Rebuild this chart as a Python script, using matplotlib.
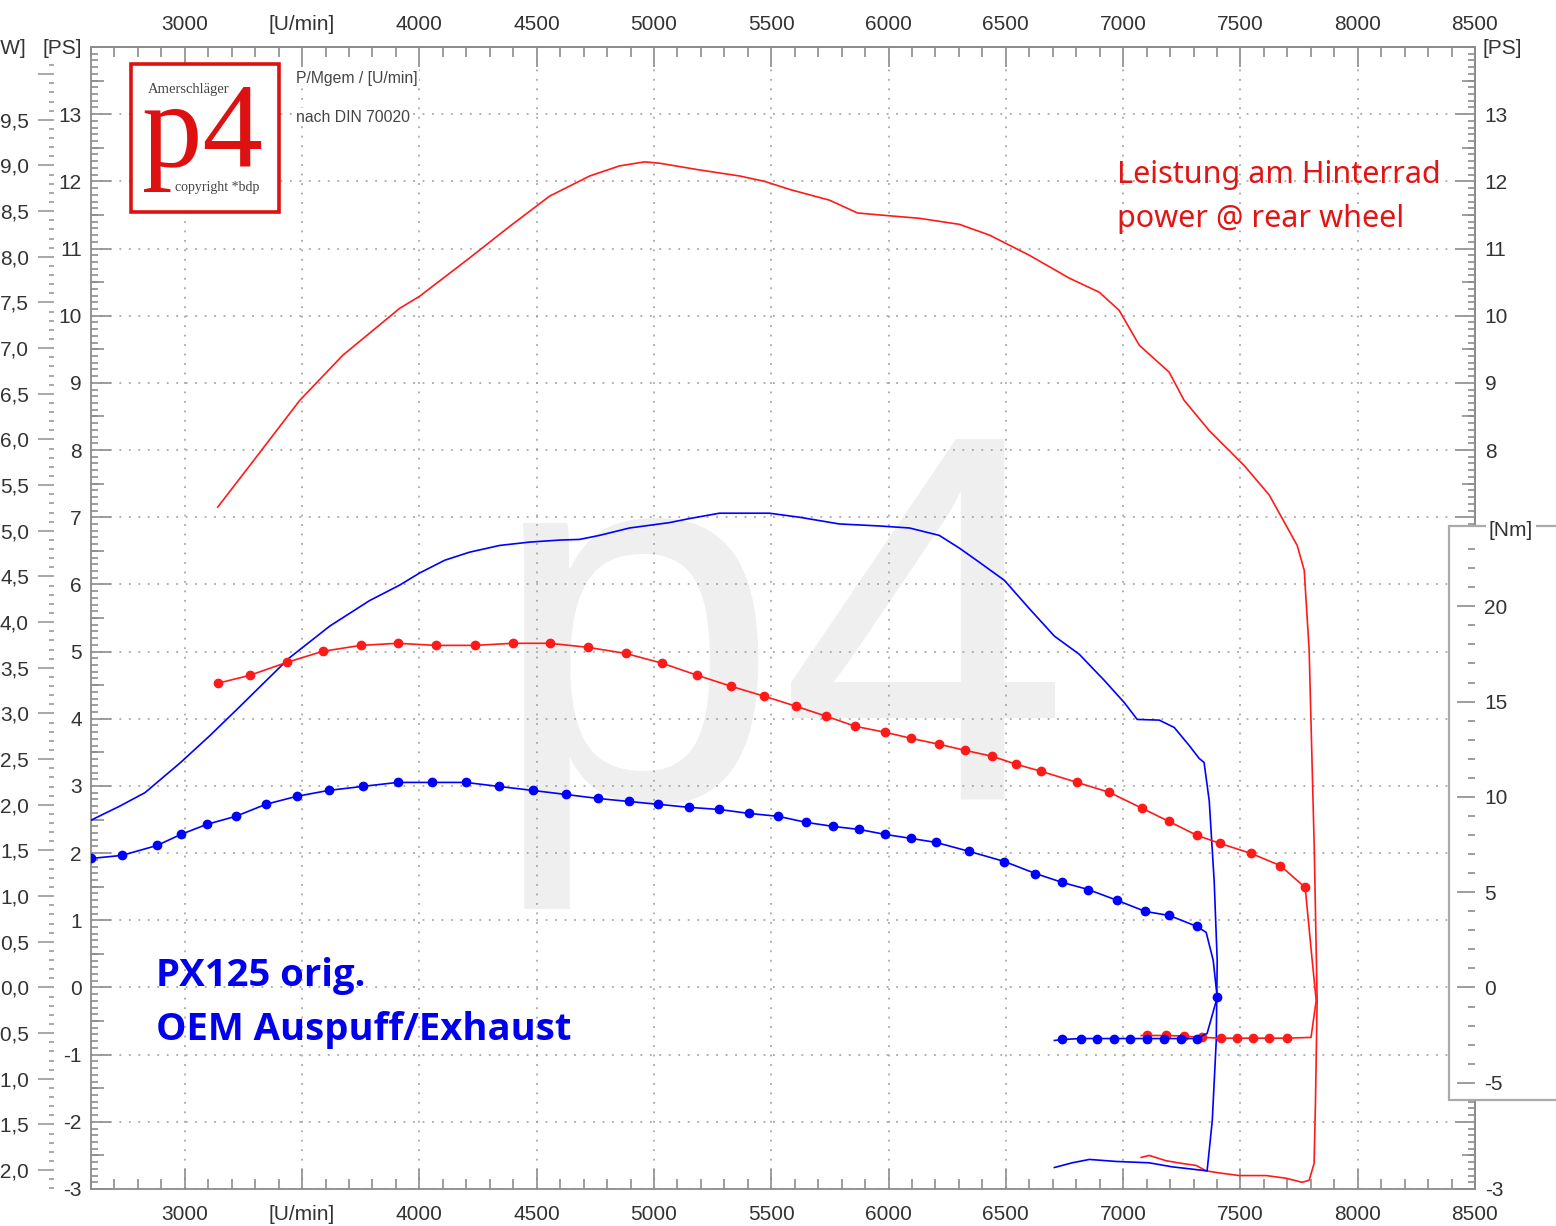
import matplotlib
matplotlib.use("Agg")
import matplotlib.pyplot as plt
import numpy as np
from matplotlib import font_manager as fm
from matplotlib.patches import Rectangle
from matplotlib.ticker import FixedLocator, MultipleLocator, FuncFormatter

W, H = 1556, 1226
KW_PER_PS = 0.7355
NM_PER_PS = 3.525   # torque scale of the sheet against the PS scale

RED = "#ff1a1a"
BLUE = "#0000ff"
GREY = "#8c8c8c"
TXT = "#333333"

# red run: power [PS], full load up and coast down back
red_power_rpm = [3140, 3277, 3490, 3673, 3916, 4001, 4214, 4385, 4555, 4726,
                 4853, 4960, 5024, 5194, 5365, 5471, 5578, 5748, 5867, 5961,
                 6131, 6302, 6430, 6600, 6770, 6898, 6983, 7069, 7196, 7260,
                 7367, 7516, 7623, 7742, 7772, 7793, 7815, 7827, 7820, 7814,
                 7793, 7763, 7695, 7610, 7495, 7409, 7354, 7312, 7252, 7184,
                 7111, 7077]
red_power_ps = [7.15, 7.77, 8.74, 9.41, 10.11, 10.29, 10.86, 11.33, 11.78, 12.08,
                12.23, 12.29, 12.27, 12.17, 12.08, 12.00, 11.88, 11.72, 11.53, 11.50,
                11.45, 11.36, 11.20, 10.90, 10.56, 10.35, 10.08, 9.56, 9.16, 8.74,
                8.29, 7.77, 7.33, 6.58, 6.21, 5.02, 2.04, -0.19, -1.70, -2.62,
                -2.87, -2.90, -2.84, -2.80, -2.80, -2.76, -2.73, -2.65, -2.62, -2.58,
                -2.50, -2.53]

# red run: torque [Nm]
red_torque_rpm = [3140, 3277, 3435, 3588, 3750, 3907, 4069, 4236, 4397, 4555,
                  4717, 4879, 5036, 5185, 5330, 5471, 5607, 5735, 5859, 5986,
                  6097, 6216, 6327, 6442, 6545, 6651, 6804, 6941, 7081, 7196,
                  7315, 7413, 7546, 7669, 7776, 7806, 7823, 7801,
                  7699, 7622, 7554, 7486, 7418, 7337, 7260, 7184, 7103, 7077]
red_torque_nm = [15.96, 16.38, 17.06, 17.64, 17.95, 18.06, 17.95, 17.95, 18.06, 18.06,
                 17.85, 17.53, 17.01, 16.38, 15.80, 15.28, 14.75, 14.23, 13.70, 13.39,
                 13.07, 12.76, 12.44, 12.13, 11.71, 11.34, 10.76, 10.24, 9.40, 8.71,
                 7.98, 7.56, 7.03, 6.40, 5.25, 1.42, -0.68, -2.62,
                 -2.66, -2.66, -2.66, -2.66, -2.66, -2.62, -2.55, -2.52, -2.52, -2.52]
red_torque_dot = [True] * 35 + [False] * 3 + [True] * 9 + [False]

# blue run: power [PS]
blue_power_rpm = [2600, 2723, 2830, 2979, 3107, 3234, 3362, 3447, 3618, 3788,
                  3916, 4001, 4108, 4214, 4342, 4470, 4598, 4683, 4768, 4896,
                  5066, 5151, 5279, 5492, 5620, 5790, 5961, 6089, 6216, 6302,
                  6387, 6494, 6600, 6707, 6813, 6920, 7005, 7060, 7154, 7218,
                  7282, 7324, 7345, 7367, 7388, 7401, 7397, 7380, 7358, 7209,
                  7111, 6971, 6856, 6783, 6707]
blue_power_ps = [2.49, 2.70, 2.90, 3.34, 3.75, 4.18, 4.62, 4.91, 5.38, 5.76,
                 5.99, 6.17, 6.36, 6.48, 6.58, 6.63, 6.66, 6.67, 6.73, 6.84,
                 6.92, 6.98, 7.06, 7.06, 7.00, 6.90, 6.87, 6.84, 6.73, 6.54,
                 6.33, 6.06, 5.64, 5.23, 4.96, 4.57, 4.24, 3.99, 3.98, 3.87,
                 3.60, 3.41, 3.35, 2.78, 1.59, 0.40, -0.79, -1.98, -2.73, -2.67,
                 -2.61, -2.59, -2.56, -2.61, -2.68]

# blue run: torque [Nm]
blue_torque_rpm = [2600, 2732, 2881, 2983, 3094, 3217, 3345, 3477, 3613, 3758,
                   3907, 4052, 4197, 4338, 4483, 4623, 4760, 4892, 5019, 5151,
                   5279, 5407, 5530, 5650, 5765, 5876, 5986, 6097, 6203, 6344,
                   6494, 6626, 6741, 6851, 6975, 7094, 7196, 7315,
                   7354, 7384, 7401, 7358,
                   7316, 7248, 7175, 7103, 7030, 6962, 6890, 6822, 6741, 6707]
blue_torque_nm = [6.77, 6.93, 7.45, 8.03, 8.56, 8.98, 9.61, 10.03, 10.34, 10.55,
                  10.76, 10.76, 10.76, 10.55, 10.34, 10.13, 9.92, 9.76, 9.61, 9.45,
                  9.34, 9.13, 8.98, 8.66, 8.45, 8.29, 8.03, 7.82, 7.61, 7.14,
                  6.61, 5.98, 5.51, 5.14, 4.57, 3.99, 3.78, 3.20,
                  2.89, 1.42, -0.52, -2.41,
                  -2.68, -2.68, -2.68, -2.68, -2.68, -2.68, -2.68, -2.68, -2.73, -2.78]
blue_torque_dot = [True] * 38 + [False, False, True, False] + [True] * 9 + [False]

x_ticks = list(range(3000, 8501, 500))
kw_major = np.arange(-2.0, 10.01, 0.5)
kw_minor = np.arange(-2.2, 10.15, 0.1)
nm_major = [-5, 0, 5, 10, 15, 20]
nm_minor = list(range(-5, 24))

plt.rcParams['font.family'] = ['Liberation Sans', 'DejaVu Sans']
plt.rcParams['axes.unicode_minus'] = False
FS = 15
MAJ, MED, MIN = 14.5, 9.5, 5   # tick lengths in pt


def px(x, y):
    return x / W, 1 - y / H


def bold_family(candidates):
    # first family that really has a bold face installed
    for fam in candidates:
        for f in fm.fontManager.ttflist:
            w = f.weight
            if isinstance(w, str):
                w = fm.weight_dict.get(w, 400)
            if f.name == fam and w >= 600:
                return fam
    return 'DejaVu Sans'


BOLD_FAM = bold_family(['Noto Sans', 'Open Sans', 'Lato', 'Roboto'])
rpm_fmt = FuncFormatter(lambda v, p: "[U/min]" if v == 3500 else f"{v:.0f}")

fig = plt.figure(figsize=(W / 100, H / 100), dpi=100)
ax = fig.add_axes([91 / W, 1 - 1189 / H, (1475 - 91) / W, (1189 - 47) / H])
ax.set_xlim(2600, 8500)
ax.set_ylim(-3, 14)
for s in ax.spines.values():
    s.set_color(GREY)
    s.set_linewidth(1.3)

# rpm scale, bottom
ax.xaxis.set_major_locator(FixedLocator(x_ticks))
ax.xaxis.set_minor_locator(MultipleLocator(100))
ax.xaxis.set_major_formatter(rpm_fmt)
ax.tick_params(axis='x', which='both', direction='in',
               color=GREY, width=1.2, labelsize=FS, labelcolor=TXT, pad=11.5)
ax.tick_params(axis='x', which='major', length=MAJ)
ax.tick_params(axis='x', which='minor', length=7)

# rpm scale, top
top = ax.secondary_xaxis('top')
top.spines['top'].set_color(GREY)
top.spines['top'].set_linewidth(1.3)
top.xaxis.set_major_locator(FixedLocator(x_ticks))
top.xaxis.set_minor_locator(MultipleLocator(100))
top.xaxis.set_major_formatter(rpm_fmt)
top.tick_params(which='both', direction='in', color=GREY, width=1.2,
                labelsize=FS, labelcolor=TXT, pad=9.5)
top.tick_params(which='major', length=MAJ)
top.tick_params(which='minor', length=7)

ax.yaxis.set_major_locator(MultipleLocator(1))
ax.yaxis.set_minor_locator(MultipleLocator(0.1))
ax.yaxis.set_major_formatter(FuncFormatter(lambda v, p: "" if v > 13.5 else f"{v:.0f}"))
ax.tick_params(axis='y', which='both', left=True, right=False, direction='in',
               color=GREY, width=1.2, labelsize=FS, labelcolor=TXT, pad=6.5)
ax.tick_params(axis='y', which='major', length=MAJ)
ax.tick_params(axis='y', which='minor', length=MIN)

ax.grid(True, which='major', linestyle=(0, (1.2, 5)), color='#9a9a9a', linewidth=1.1)

ident = (lambda v: v, lambda v: v)

# half PS ticks, left and right
for loc in ('left', 'right'):
    half = ax.secondary_yaxis(loc, functions=ident)
    half.spines[loc].set_visible(False)
    half.yaxis.set_major_locator(FixedLocator(np.arange(-2.5, 14, 1.0)))
    half.yaxis.set_minor_locator(FixedLocator([]))
    half.tick_params(which='major', direction='in', length=MED, color=GREY, width=1.2,
                     labelleft=False, labelright=False)

# right PS scale (labels only where the torque box leaves room)
ps_r = ax.secondary_yaxis('right', functions=ident)
ps_r.spines['right'].set_color(GREY)
ps_r.spines['right'].set_linewidth(1.3)
ps_r.yaxis.set_major_locator(MultipleLocator(1))
ps_r.yaxis.set_minor_locator(MultipleLocator(0.1))
ps_r.yaxis.set_major_formatter(FuncFormatter(
    lambda v, p: "" if -2.5 < v < 7.5 or v > 13.5 else f"{v:.0f}"))
ps_r.tick_params(which='both', direction='in', color=GREY, width=1.2,
                 labelsize=FS, labelcolor=TXT, pad=7)
ps_r.tick_params(which='major', length=MAJ)
ps_r.tick_params(which='minor', length=MIN)

# kW scale on the far left
kw = ax.secondary_yaxis((54 - 91) / (1475 - 91),
                        functions=(lambda p: p * KW_PER_PS, lambda k: k / KW_PER_PS))
kw.spines['left'].set_visible(False)
kw.yaxis.set_major_locator(FixedLocator(kw_major))
kw.yaxis.set_minor_locator(FixedLocator(kw_minor))
kw.yaxis.set_major_formatter(FuncFormatter(
    lambda v, p: "" if v > 9.9 else f"{round(v, 1) + 0.0:.1f}".replace(".", ",")))
kw.tick_params(which='both', direction='out', color='#999999', width=1.2,
               labelsize=FS, labelcolor=TXT, pad=6.5)
kw.tick_params(which='major', length=11.5)
kw.tick_params(which='minor', length=3.6)

# watermark
ax.text(*px(488, 800), "p4", transform=fig.transFigure, fontsize=377,
        color="#efefef", ha='left', va='baseline', zorder=0.5,
        family='Liberation Sans')

# power curves
ax.plot(red_power_rpm, red_power_ps, color=RED, lw=1.2, zorder=4)
ax.plot(blue_power_rpm, blue_power_ps, color=BLUE, lw=1.2, zorder=4)

# torque on its own scale
ax_t = ax.twinx()
ax_t.set_ylim(-3 * NM_PER_PS, 14 * NM_PER_PS)
for s in ax_t.spines.values():
    s.set_visible(False)
ax_t.plot(red_torque_rpm, red_torque_nm, color=RED, lw=1.2, marker='o', ms=6,
          markevery=red_torque_dot, zorder=4)
ax_t.plot(blue_torque_rpm, blue_torque_nm, color=BLUE, lw=1.2, marker='o', ms=6,
          markevery=blue_torque_dot, zorder=4)
ax_t.yaxis.set_major_locator(FixedLocator(nm_major))
ax_t.yaxis.set_minor_locator(FixedLocator(nm_minor))
ax_t.tick_params(which='both', direction='in', color=GREY, width=1.2,
                 labelsize=FS, labelcolor=TXT, pad=6.5)
ax_t.tick_params(which='major', length=13)
ax_t.tick_params(which='minor', length=MIN)

# white box behind the torque scale
bx, by = px(1449, 1100)
ax_t.add_patch(Rectangle((bx, by), (1620 - 1449) / W, (1100 - 526) / H,
                         transform=fig.transFigure, facecolor='white',
                         edgecolor='#aaaaaa', lw=1.6, clip_on=False, zorder=0.5))
ax_t.text(*px(1489, 530), "[Nm]", transform=fig.transFigure, fontsize=FS,
          color=TXT, ha='left', va='center', zorder=3,
          bbox=dict(facecolor='white', edgecolor='none', pad=2))

# unit labels
fig.text(*px(82, 48), "[PS]", fontsize=FS, color=TXT, ha='right', va='center')
fig.text(*px(26, 48), "[kW]", fontsize=FS, color=TXT, ha='right', va='center')
fig.text(*px(1483, 48), "[PS]", fontsize=FS, color=TXT, ha='left', va='center')

# logo
lx, ly = px(131, 212)
ax.add_patch(Rectangle((lx, ly), 148 / W, 148 / H, transform=fig.transFigure,
                       facecolor='white', edgecolor='#dd1111', lw=2.6,
                       clip_on=False, zorder=5))
ax.text(*px(148, 90), "Amerschläger", transform=fig.transFigure, fontsize=10.5,
        family='Liberation Serif', color='#444444', ha='left', va='center', zorder=6)
ax.text(*px(142, 166), "p4", transform=fig.transFigure, fontsize=87,
        family='Liberation Serif', color='#dd1111', ha='left', va='baseline', zorder=7)
ax.text(*px(175, 188), "copyright *bdp", transform=fig.transFigure, fontsize=10,
        family='Liberation Serif', color='#444444', ha='left', va='center', zorder=6)

ax.text(*px(296, 78), "P/Mgem / [U/min]", transform=fig.transFigure, fontsize=11.3,
        color='#444444', ha='left', va='center', zorder=5,
        bbox=dict(facecolor='white', edgecolor='none', pad=1))
ax.text(*px(296, 117), "nach DIN 70020", transform=fig.transFigure, fontsize=11.3,
        color='#444444', ha='left', va='center', zorder=5,
        bbox=dict(facecolor='white', edgecolor='none', pad=1))

# annotations
fig.text(*px(1117, 175), "Leistung am Hinterrad", fontsize=22, color='#e01515',
         family='Noto Sans', ha='left', va='center')
fig.text(*px(1117, 219), "power @ rear wheel", fontsize=22, color='#e01515',
         family='Noto Sans', ha='left', va='center')
fig.text(*px(156, 976), "PX125 orig.", fontsize=27.5, color='#0000ee',
         family=BOLD_FAM, weight='bold', ha='left', va='center')
fig.text(*px(156, 1030), "OEM Auspuff/Exhaust", fontsize=27.5, color='#0000ee',
         family=BOLD_FAM, weight='bold', ha='left', va='center')

fig.savefig("out.png", dpi=100)
